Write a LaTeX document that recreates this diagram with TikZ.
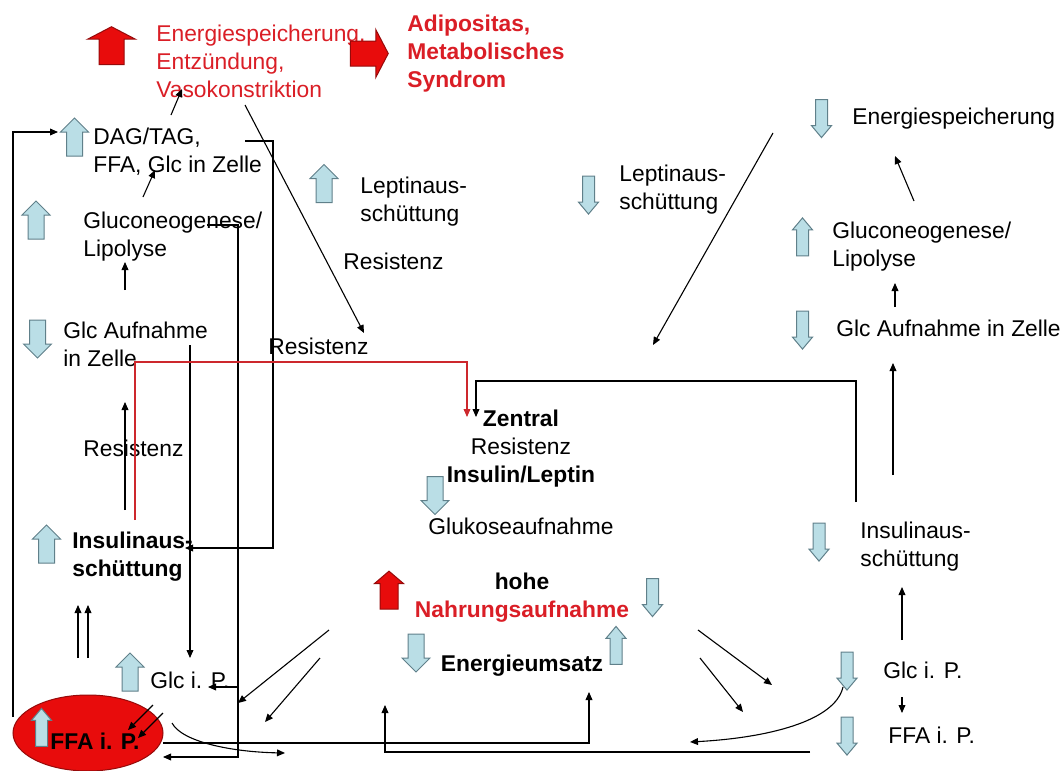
\documentclass[tikz,border=0pt]{standalone}
\usepackage{fontspec}
\setmainfont{Liberation Sans}
\usetikzlibrary{shapes.arrows, shapes.geometric, arrows.meta}
\definecolor{bluefill}{RGB}{186,222,230}
\definecolor{blueline}{RGB}{96,128,138}
\definecolor{redfill}{RGB}{232,12,12}
\definecolor{reddark}{RGB}{150,10,10}
\definecolor{redtext}{RGB}{218,30,38}
\definecolor{redwire}{RGB}{205,40,45}

\begin{document}
\begin{tikzpicture}[
    x=0.5pt, y=-0.5pt,
    lbl/.style={inner sep=0pt, anchor=north west, align=left, font=\fontsize{11.4}{14}\selectfont},
    lblb/.style={lbl, font=\fontsize{11.4}{14}\selectfont\bfseries},
    lblc/.style={lbl, anchor=north, align=center},
    blk/.style={single arrow, single arrow head indent=0pt, line width=0.5pt, minimum height=19pt},
    bigup/.style={blk, draw=blueline, fill=bluefill, shape border rotate=90, inner sep=3.75pt, minimum width=13.5pt, single arrow head extend=3pt, single arrow tip angle=90},
    bigdown/.style={bigup, shape border rotate=270},
    slimup/.style={blk, draw=blueline, fill=bluefill, shape border rotate=90, inner sep=2.75pt, minimum width=9.5pt, single arrow head extend=2pt, single arrow tip angle=80},
    slimdown/.style={slimup, shape border rotate=270},
    redblk/.style={blk, draw=reddark, fill=redfill, inner sep=6pt, minimum width=23.5pt, single arrow head extend=5.75pt, single arrow tip angle=125},
    arr/.style={-{Triangle[length=4pt, width=3.4pt]}, line width=0.55pt},
    redarr/.style={arr, draw=redwire}
  ]
  \useasboundingbox (0,0) rectangle (1062,771);

  % top row
  \node[redblk, shape border rotate=90] (rTop) at (111.5,49) {};
  \node[lbl, text=redtext] (tRed) at (156,25) {Energiespeicherung,\\Entzündung,\\Vasokonstriktion};
  \node[redblk] (rRight) at (366,53.5) {};
  \node[lblb, text=redtext] (tAdip) at (407,15) {Adipositas,\\Metabolisches\\Syndrom};

  % left column
  \node[bigup] (bDAG) at (74.5,141) {};
  \node[lbl] (tDAG) at (93,128) {DAG/TAG,\\FFA, Glc in Zelle};
  \node[bigup] (bGluL) at (36,224) {};
  \node[lbl] (tGluL) at (83,212) {Gluconeogenese/\\Lipolyse};
  \node[bigdown] (bGlcAL) at (37.5,335) {};
  \node[lbl] (tGlcAL) at (63,322) {Glc Aufnahme\\in Zelle};
  \node[lbl] (tResL) at (83,440) {Resistenz};
  \node[bigup] (bInsL) at (46.5,548) {};
  \node[lblb] (tInsL) at (72,532) {Insulinaus-\\schüttung};
  \node[bigup] (bGlcPL) at (130,676) {};
  \node[lbl] (tGlcPL) at (150,672) {Glc i. P.};
  \node[ellipse, minimum width=75pt, minimum height=38pt, fill=redfill, draw=reddark, line width=0.5pt] (eFFA) at (88,733) {};
  \node[slimup] (bFFAL) at (41.5,731) {};
  \node[lblb] (tFFAL) at (50,733) {FFA i. P.};

  % middle
  \node[bigup] (bLepL) at (324,187.5) {};
  \node[lbl] (tLepL) at (360,177) {Leptinaus-\\schüttung};
  \node[lbl] (tRes1) at (343,253) {Resistenz};
  \node[lbl] (tRes2) at (268,338) {Resistenz};
  \node[slimdown] (bLepR) at (588.5,191.5) {};
  \node[lbl] (tLepR) at (619,165) {Leptinaus-\\schüttung};
  \node[lblc] (tZent) at (521,410) {\textbf{Zentral}\\Resistenz\\\textbf{Insulin/Leptin}};
  \node[bigdown] (bGluk) at (435,491.5) {};
  \node[lblc] (tGluk) at (521,518) {Glukoseaufnahme};
  \node[redblk, shape border rotate=90, inner sep=4.25pt, minimum width=14pt, single arrow head extend=2.75pt, single arrow tip angle=99] (rNahr) at (389,594) {};
  \node[lblc, font=\fontsize{11.4}{14}\selectfont\bfseries] (tHohe) at (522,573) {hohe\\\textcolor{redtext}{Nahrungsaufnahme}};
  \node[slimdown] (bNahr) at (652.5,594) {};
  \node[bigdown] (bEnU) at (416,649) {};
  \node[lblc, font=\fontsize{11.4}{14}\selectfont\bfseries] (tEnU) at (522,655) {Energieumsatz};
  \node[slimup] (bEnU2) at (616,649) {};

  % right column
  \node[slimdown] (bEnR) at (821.5,115) {};
  \node[lbl] (tEnR) at (852,108) {Energiespeicherung};
  \node[slimup] (bGluR) at (802.5,240.5) {};
  \node[lbl] (tGluR) at (832,222) {Gluconeogenese/\\Lipolyse};
  \node[slimdown] (bGlcAR) at (802.5,326.5) {};
  \node[lbl] (tGlcAR) at (836,320) {Glc Aufnahme in Zelle};
  \node[slimdown] (bInsR) at (819,538.5) {};
  \node[lbl] (tInsR) at (860,522) {Insulinaus-\\schüttung};
  \node[slimdown] (bGlcPR) at (847,667.5) {};
  \node[lbl] (tGlcPR) at (883,662) {Glc i. P.};
  \node[slimdown] (bFFAR) at (847,732.5) {};
  \node[lbl] (tFFAR) at (888,727) {FFA i. P.};

  % connector ends
  \coordinate (ffaL) at (13,717);      \coordinate (dagIn) at (58,132);
  \coordinate (dagTop) at (171,115);   \coordinate (vasoBot) at (182,89);
  \coordinate (gluTop) at (143,197);   \coordinate (dagBot) at (155,170);
  \coordinate (glcATop) at (125,290);  \coordinate (gluBot) at (125,262);
  \coordinate (insTop) at (125,510);   \coordinate (glcABot) at (125,402);
  \coordinate (ffaUpA) at (78,658);    \coordinate (insBotA) at (78,605);
  \coordinate (ffaUpB) at (88,658);    \coordinate (insBotB) at (88,605);
  \coordinate (glcARight) at (190,345); \coordinate (glcPTop) at (190,658);
  \coordinate (gluRight) at (207,225); \coordinate (gluDrop) at (238,757);
  \coordinate (ffaRight) at (163,757);
  \coordinate (glcPIn) at (238,687);   \coordinate (glcPEnd) at (208,687);
  \coordinate (dagRight) at (245,141); \coordinate (dagDrop) at (273,548);
  \coordinate (insEnd) at (185,548);
  \coordinate (vasoRight) at (245,105); \coordinate (res2Top) at (364,333);
  \coordinate (insRed) at (135,520);   \coordinate (zenRedTop) at (467,362);
  \coordinate (zenRed) at (467,417);
  \coordinate (insRUp) at (856,502);   \coordinate (zenTop) at (476,381);
  \coordinate (zenIn) at (476,417);
  \coordinate (enRDiag) at (773,133);  \coordinate (zenDiag) at (653,345);
  \coordinate (gluRTop) at (914,201);  \coordinate (enRBot) at (895,156);
  \coordinate (glcARTop) at (895,307); \coordinate (gluRBot) at (895,283);
  \coordinate (insRTop) at (893,475);  \coordinate (glcARBot) at (893,363);
  \coordinate (glcPRTop) at (902,640); \coordinate (insRBot) at (902,587);
  \coordinate (glcPRBot) at (902,697); \coordinate (ffaRTop) at (902,713);
  \coordinate (glcPRArr) at (843,687); \coordinate (curveREnd) at (690,742);
  \coordinate (ffaRLine) at (810,752); \coordinate (hoheUp) at (385,705);
  \coordinate (ffaLine) at (163,743);  \coordinate (enUBot) at (589,692);
  \coordinate (ffaCurve) at (172,723); \coordinate (curveLEnd) at (285,753);
  \coordinate (sA) at (153,705);       \coordinate (sAEnd) at (128,730);
  \coordinate (sB) at (163,713);       \coordinate (sBEnd) at (138,738);
  \coordinate (dlA) at (329,630);      \coordinate (dlAEnd) at (238,703);
  \coordinate (dlB) at (320,658);      \coordinate (dlBEnd) at (265,722);
  \coordinate (drA) at (698,630);      \coordinate (drAEnd) at (772,685);
  \coordinate (drB) at (700,658);      \coordinate (drBEnd) at (743,712);

  % connectors
  \draw[arr] (ffaL) |- (dagIn);
  \draw[arr] (dagTop) -- (vasoBot);
  \draw[arr] (gluTop) -- (dagBot);
  \draw[arr] (glcATop) -- (gluBot);
  \draw[arr] (insTop) -- (glcABot);
  \draw[arr] (ffaUpA) -- (insBotA);
  \draw[arr] (ffaUpB) -- (insBotB);
  \draw[arr] (glcARight) -- (glcPTop);
  \draw[arr] (gluRight) -| (gluDrop) -- (ffaRight);
  \draw[arr] (glcPIn) -- (glcPEnd);
  \draw[arr] (dagRight) -| (dagDrop) -- (insEnd);
  \draw[arr] (vasoRight) -- (res2Top);
  \draw[redarr] (insRed) |- (zenRedTop) -- (zenRed);
  \draw[arr] (insRUp) |- (zenTop) -- (zenIn);
  \draw[arr] (enRDiag) -- (zenDiag);
  \draw[arr] (gluRTop) -- (enRBot);
  \draw[arr] (glcARTop) -- (gluRBot);
  \draw[arr] (insRTop) -- (glcARBot);
  \draw[arr] (glcPRTop) -- (insRBot);
  \draw[arr] (glcPRBot) -- (ffaRTop);
  \draw[arr] (glcPRArr) .. controls (835,722) and (765,738) .. (curveREnd);
  \draw[arr] (ffaRLine) -| (hoheUp);
  \draw[arr] (ffaLine) -| (enUBot);
  \draw[arr] (ffaCurve) .. controls (182,742) and (232,752) .. (curveLEnd);
  \draw[arr] (sA) -- (sAEnd);
  \draw[arr] (sB) -- (sBEnd);
  \draw[arr] (dlA) -- (dlAEnd);
  \draw[arr] (dlB) -- (dlBEnd);
  \draw[arr] (drA) -- (drAEnd);
  \draw[arr] (drB) -- (drBEnd);
\end{tikzpicture}
\end{document}
